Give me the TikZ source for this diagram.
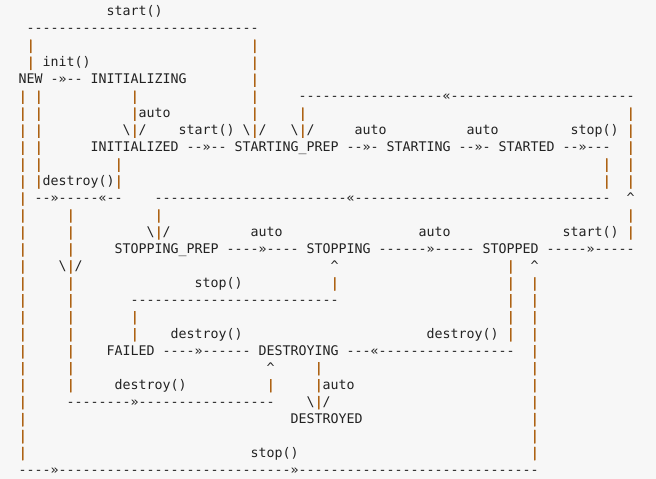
\documentclass[tikz,border=0pt]{standalone}
\usepackage{fontspec}
\setmonofont{DejaVu Sans Mono}
\newfontfamily\barfont{DejaVu Sans Mono}[FakeBold=1.2]
\definecolor{txtcol}{HTML}{222222}
\definecolor{barcol}{HTML}{AD6214}
\definecolor{bgcol}{HTML}{F7F7F7}
\ExplSyntaxOn
\cs_new:Npn \dsh #1 {\prg_replicate:nn {#1} {-}}
\ExplSyntaxOff
\newcommand\vb{{\barfont\color{barcol}|}}
\newcommand\bsl{\textbackslash}
\newcommand\arr{\bsl\vb/}
\newcommand\crt{\textasciicircum}
\tikzset{txt/.style={anchor=base west, inner sep=0pt, outer sep=0pt, text=txtcol,
  font=\ttfamily\fontsize{13.288pt}{16pt}\selectfont}}
\newcommand\sg[3]{\node[txt] (r#1c#2) at ({18.7pt+#2*8pt},{463.1pt-#1*16.97pt}) {#3};}
\newcommand\bars[2]{\foreach \cc in {#2}{\sg{#1}{\cc}{\vb}}}
\begin{document}
\begin{tikzpicture}
\fill[bgcol] (0,0) rectangle (656pt,479pt);
\useasboundingbox (0,0) rectangle (656pt,479pt);
% row 0-4
\sg{0}{11}{start()}
\sg{1}{1}{\dsh{29}}
\bars{2}{1,29}
\bars{3}{1,29} \sg{3}{3}{init()}
\sg{4}{0}{NEW} \sg{4}{4}{-»--} \sg{4}{9}{INITIALIZING}
\bars{4}{29}
% row 5-10
\bars{5}{0,2,14,29} \sg{5}{35}{\dsh{18}«\dsh{23}}
\bars{6}{0,2,29,35,76} \sg{6}{14}{\vb auto}
\bars{7}{0,2,76} \sg{7}{13}{\arr} \sg{7}{20}{start()} \sg{7}{28}{\arr} \sg{7}{34}{\arr}
\sg{7}{42}{auto} \sg{7}{56}{auto} \sg{7}{69}{stop()}
\bars{8}{0,2,76}
\sg{8}{9}{INITIALIZED} \sg{8}{21}{--»--} \sg{8}{27}{STARTING\_PREP} \sg{8}{41}{--»-}
\sg{8}{46}{STARTING} \sg{8}{55}{--»-} \sg{8}{60}{STARTED} \sg{8}{68}{--»---}
\bars{9}{0,2,12,73,76}
\bars{10}{0,73,76} \sg{10}{2}{\vb destroy()\vb}
% row 11-16
\bars{11}{0} \sg{11}{2}{\dsh{2}»\dsh{5}«\dsh{2}} \sg{11}{17}{\dsh{24}«\dsh{32}} \sg{11}{76}{\crt}
\bars{12}{0,6,17,76}
\bars{13}{0,6,76} \sg{13}{16}{\arr} \sg{13}{29}{auto} \sg{13}{50}{auto} \sg{13}{68}{start()}
\bars{14}{0,6} \sg{14}{12}{STOPPING\_PREP} \sg{14}{26}{\dsh{4}»\dsh{4}} \sg{14}{36}{STOPPING}
\sg{14}{45}{\dsh{6}»\dsh{5}} \sg{14}{58}{STOPPED} \sg{14}{66}{\dsh{5}»\dsh{5}}
\bars{15}{0,61} \sg{15}{5}{\arr} \sg{15}{39}{\crt} \sg{15}{64}{\crt}
\bars{16}{0,6,39,61,64} \sg{16}{22}{stop()}
% row 17-23
\bars{17}{0,6,61,64} \sg{17}{14}{\dsh{26}}
\bars{18}{0,6,14,61,64}
\bars{19}{0,6,14,61,64} \sg{19}{19}{destroy()} \sg{19}{51}{destroy()}
\bars{20}{0,6,64} \sg{20}{11}{FAILED} \sg{20}{18}{\dsh{4}»\dsh{6}} \sg{20}{30}{DESTROYING}
\sg{20}{41}{\dsh{3}«\dsh{17}}
\bars{21}{0,6,37,64} \sg{21}{31}{\crt}
\bars{22}{0,6,31,64} \sg{22}{12}{destroy()} \sg{22}{37}{\vb auto}
\bars{23}{0,64} \sg{23}{6}{\dsh{8}»\dsh{17}} \sg{23}{36}{\arr}
% row 24-27
\bars{24}{0,64} \sg{24}{34}{DESTROYED}
\bars{25}{0,64}
\bars{26}{0,64} \sg{26}{29}{stop()}
\sg{27}{0}{\dsh{4}»\dsh{29}»\dsh{30}}
\end{tikzpicture}
\end{document}
